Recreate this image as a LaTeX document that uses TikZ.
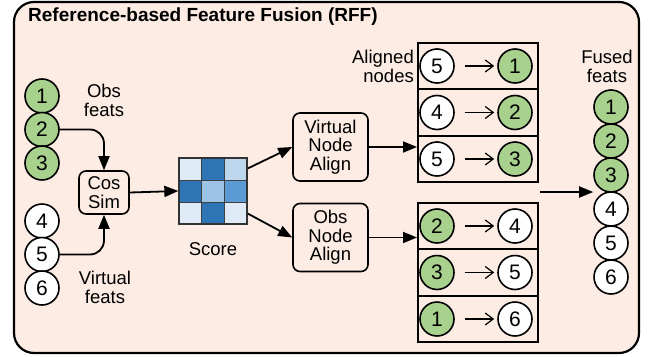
\documentclass[tikz,border=0pt]{standalone}
\usepackage{fontspec}
\setmainfont{Liberation Sans}
\usetikzlibrary{arrows.meta}
\definecolor{bgpeach}{HTML}{FCECE4}
\definecolor{obsgreen}{HTML}{A9D18E}
\definecolor{scoreA}{HTML}{DEEBF7}
\definecolor{scoreB}{HTML}{BDD7EE}
\definecolor{scoreC}{HTML}{9DC3E6}
\definecolor{scoreD}{HTML}{5B9BD5}
\definecolor{scoreE}{HTML}{2E75B6}
\begin{document}
\begin{tikzpicture}[x=1pt, y=-1pt,
	feat/.style={circle, draw, line width=1.6pt, minimum size=34pt, inner sep=0pt, font=\fontsize{21}{21}\selectfont},
	obs/.style={feat, fill=obsgreen},
	virt/.style={feat, fill=white},
	blk/.style={draw, rounded corners=7pt, line width=1.6pt, align=center, inner sep=1pt, font=\fontsize{18.5}{18.7}\selectfont},
	lbl/.style={align=center, inner sep=0pt, font=\fontsize{18.5}{18.7}\selectfont},
	row/.style={draw, line width=2pt, minimum width=120pt, minimum height=46.5pt, inner sep=0pt},
	flow/.style={-{Triangle[length=14pt, width=11pt]}, line width=1.8pt},
	map/.style={-{Straight Barb[length=8pt, width=12pt]}, line width=1.2pt, shorten <=10pt, shorten >=3pt}]
	% \draw[help lines] (0,0) grid[step=20] (652,356);
	\useasboundingbox (0,0) rectangle (652,356);
	\draw[rounded corners=20pt, line width=2.2pt, fill=bgpeach] (14,2) rectangle (639,353);
	\node[anchor=base west, inner sep=0pt, font=\bfseries\fontsize{19}{19}\selectfont] (title) at (28,21) {Reference-based Feature Fusion (RFF)};

	% input feats
	\node[obs] (o1) at (42,96) {1};
	\node[obs] (o2) at (42,129.5) {2};
	\node[obs] (o3) at (42,163) {3};
	\node[virt] (v4) at (42,221) {4};
	\node[virt] (v5) at (42,254.5) {5};
	\node[virt] (v6) at (42,288) {6};
	\node[lbl] (obslbl) at (104,100.5) {Obs\\feats};
	\node[lbl] (virtlbl) at (105,287.5) {Virtual\\feats};

	\node[blk, minimum width=50pt, minimum height=43pt] (cos) at (104,192.5) {Cos\\Sim};
	\draw[flow, rounded corners=14pt] (o2.east) -| (cos.north);
	\draw[flow, rounded corners=14pt] (v5.east) -| (cos.south);

	% score matrix
	\fill[scoreA] (179,158) rectangle (201.7,180);
	\fill[scoreE] (201.7,158) rectangle (224.3,180);
	\fill[scoreB] (224.3,158) rectangle (247,180);
	\fill[scoreE] (179,180) rectangle (201.7,202);
	\fill[scoreC] (201.7,180) rectangle (224.3,202);
	\fill[scoreD] (224.3,180) rectangle (247,202);
	\fill[scoreA] (179,202) rectangle (201.7,224);
	\fill[scoreE] (201.7,202) rectangle (224.3,224);
	\fill[scoreA] (224.3,202) rectangle (247,224);
	\draw[line width=1pt, black!75] (179,180) -- (247,180) (179,202) -- (247,202) (201.7,158) -- (201.7,224) (224.3,158) -- (224.3,224);
	\node[draw, line width=1.3pt, black!80, minimum width=68pt, minimum height=66pt, inner sep=0pt] (score) at (213,191) {};
	\node[lbl] (scorelbl) at (213,249) {Score};
	\draw[flow] (cos.east) -- (score.west);

	\node[blk, minimum width=75pt, minimum height=68pt] (vna) at (330.5,147) {Virtual\\Node\\Align};
	\node[blk, minimum width=75pt, minimum height=68pt] (ona) at (330.5,237.5) {Obs\\Node\\Align};
	\draw[flow] (score.33) -- (vna.west);
	\draw[flow] (score.-33) -- (ona.west);

	% aligned nodes
	\node[row] (al1) at (478,66) {};
	\node[row] (al2) at (478,112.5) {};
	\node[row] (al3) at (478,159) {};
	\node[row] (bl1) at (478,226) {};
	\node[row] (bl2) at (478,272.5) {};
	\node[row] (bl3) at (478,319) {};
	\node[lbl, anchor=east, align=right] (alnlbl) at (414,66.5) {Aligned\\nodes};
	\draw[flow] (vna.east) -- (vna.east -| al3.west);
	\draw[flow] (ona.east) -- (ona.east -| bl1.west);

	\node[virt] (a1l) at (437,66) {5};
	\node[obs] (a1r) at (515,66) {1};
	\node[virt] (a2l) at (437,112.5) {4};
	\node[obs] (a2r) at (515,112.5) {2};
	\node[virt] (a3l) at (437,159) {5};
	\node[obs] (a3r) at (515,159) {3};
	\node[obs] (b1l) at (437,226) {2};
	\node[virt] (b1r) at (515,226) {4};
	\node[obs] (b2l) at (437,272.5) {3};
	\node[virt] (b2r) at (515,272.5) {5};
	\node[obs] (b3l) at (437,319) {1};
	\node[virt] (b3r) at (515,319) {6};
	\draw[map] (a1l.east) -- (a1r.west);
	\draw[map] (a2l.east) -- (a2r.west);
	\draw[map] (a3l.east) -- (a3r.west);
	\draw[map] (b1l.east) -- (b1r.west);
	\draw[map] (b2l.east) -- (b2r.west);
	\draw[map] (b3l.east) -- (b3r.west);

	% fused feats
	\node[lbl] (fuslbl) at (607,66.5) {Fused\\feats};
	\node[obs] (f1) at (611,107) {1};
	\node[obs] (f2) at (611,141) {2};
	\node[obs] (f3) at (611,175) {3};
	\node[virt] (f4) at (611,209) {4};
	\node[virt] (f5) at (611,243) {5};
	\node[virt] (f6) at (611,277) {6};
	\coordinate (fz) at (540,192);
	\draw[flow] (fz) -- (fz -| f3.west);
\end{tikzpicture}
\end{document}
